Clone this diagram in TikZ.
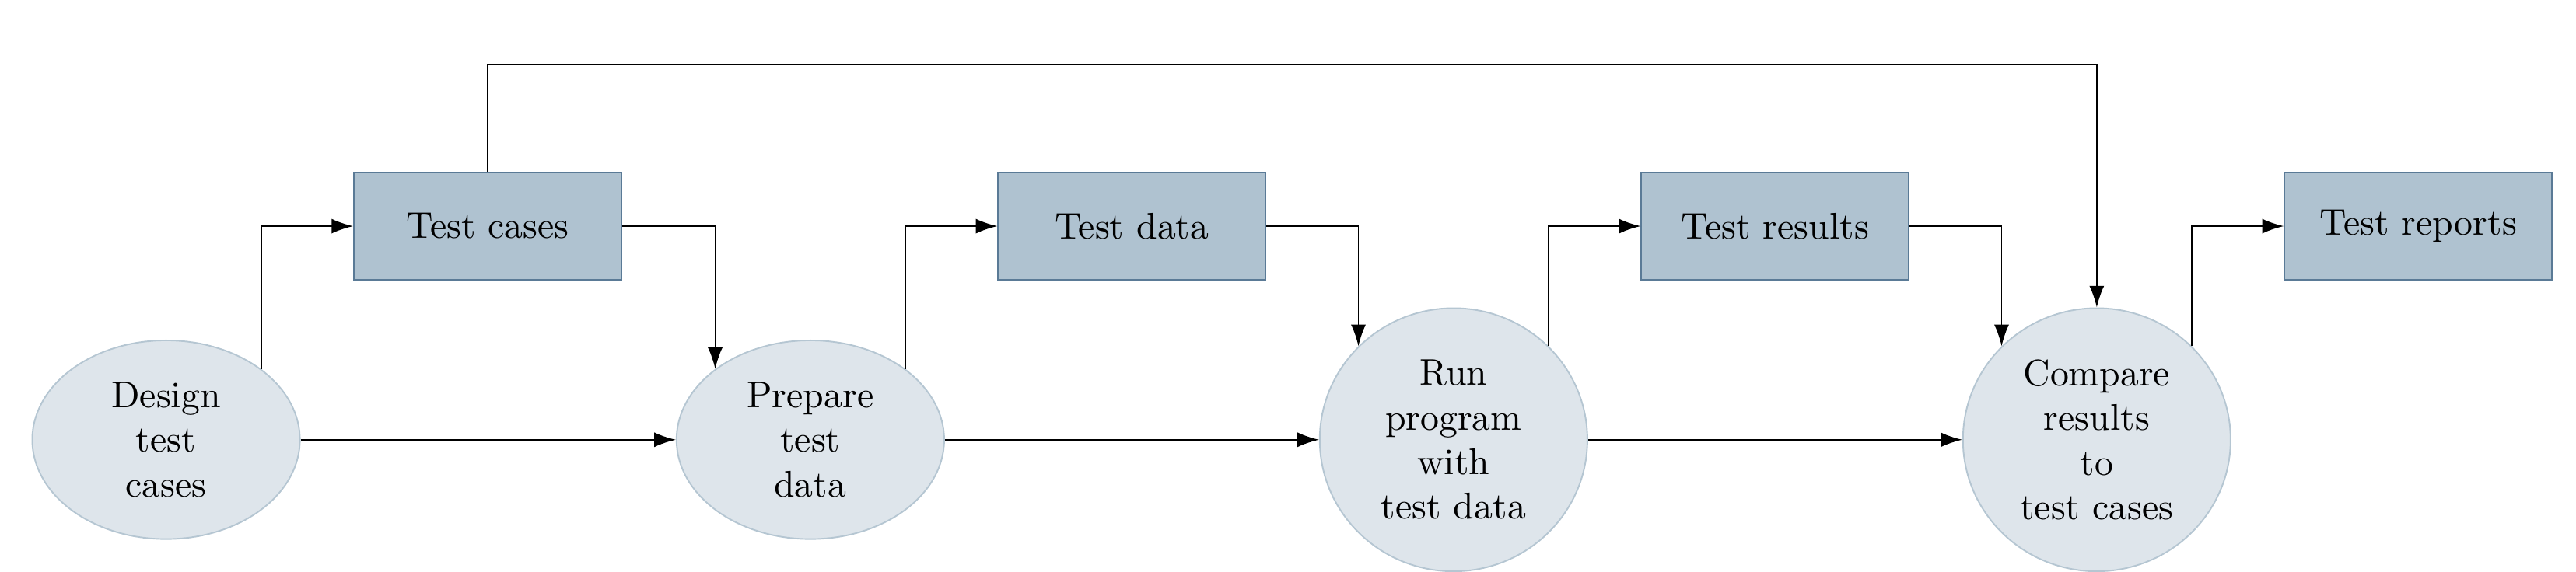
\documentclass[tikz,border=0pt]{standalone}
\usetikzlibrary{shapes.geometric,arrows.meta}
\definecolor{boxfill}{RGB}{175,194,208}
\definecolor{boxline}{RGB}{90,122,150}
\definecolor{ellfill}{RGB}{222,229,235}
\definecolor{ellline}{RGB}{181,198,210}
\tikzset{
    process/.style={ellipse, draw=ellline, fill=ellfill, align=center, minimum width=2.53cm},
    product/.style={rectangle, draw=boxline, fill=boxfill, minimum width=2.53cm, minimum height=1.02cm},
    flow/.style={-{Latex[length=5.8pt,width=4pt]}}
}
\begin{document}
\begin{tikzpicture}
                \useasboundingbox (-1.57,-1.25) rectangle (22.78,4.16);
                \node [process, minimum height=1.88cm] (design) at (0,0) {Design\\test\\cases};
                \node [process, minimum height=1.88cm] (prepare) at (6.09,0) {Prepare\\test\\data};
                \node [process, minimum height=2.49cm] (run) at (12.17,0) {Run\\program\\with\\test data};
                \node [process, minimum height=2.49cm] (compare) at (18.25,0) {Compare\\results\\to\\test cases};
                \node [product] (cases) at (3.04,2.02) {Test cases};
                \node [product] (data) at (9.13,2.02) {Test data};
                \node [product] (results) at (15.21,2.02) {Test results};
                \node [product] (reports) at (21.29,2.02) {Test reports};
                \draw [flow] (design.east) -- (prepare.west);
                \draw [flow] (prepare.east) -- (run.west);
                \draw [flow] (run.east) -- (compare.west);
                \draw [flow] (design.north east) |- (cases.west);
                \draw [flow] (prepare.north east) |- (data.west);
                \draw [flow] (run.north east) |- (results.west);
                \draw [flow] (compare.north east) |- (reports.west);
                \draw [flow] (cases.east) -| (prepare.north west);
                \draw [flow] (data.east) -| (run.north west);
                \draw [flow] (results.east) -| (compare.north west);
                \draw [flow] (cases.north) -- ++(0,1.01) -| (compare.north);
            \end{tikzpicture}
\end{document}
